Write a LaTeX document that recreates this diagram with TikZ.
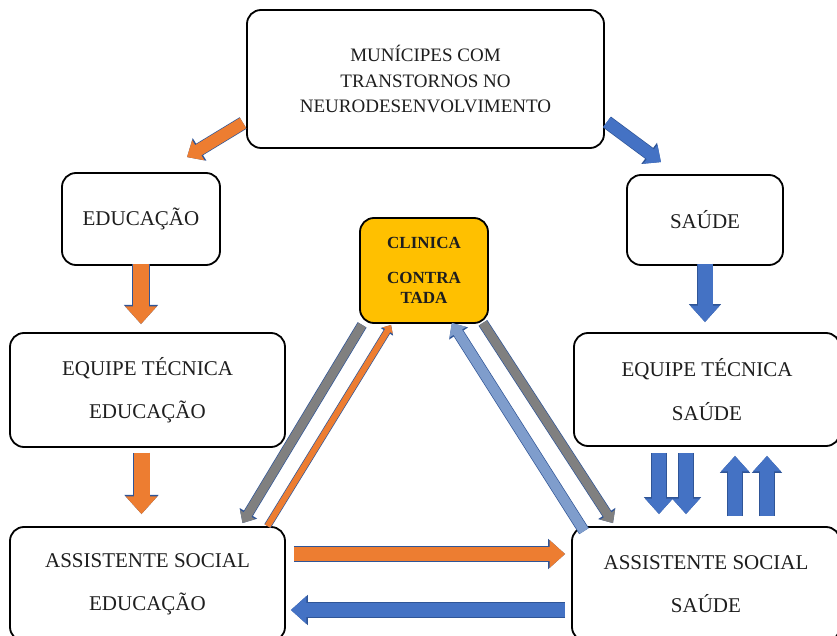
\documentclass[tikz,border=0pt]{standalone}
\usepackage{fontspec}
\setmainfont{Liberation Serif}
\usetikzlibrary{calc,arrows.meta}
\definecolor{laranja}{RGB}{237,125,49}
\definecolor{azul}{RGB}{68,114,196}
\definecolor{cinza}{RGB}{128,128,128}
\definecolor{azulclaro}{RGB}{127,157,204}
\definecolor{amarelo}{RGB}{255,192,0}
\definecolor{contorno}{RGB}{47,85,151}
\definecolor{texto}{RGB}{30,30,30}
\begin{document}
\begin{tikzpicture}[x=0.5pt,y=-0.5pt,
  box/.style={rectangle, rounded corners=7pt, draw=black, line width=0.9pt, fill=white, text=texto, align=center, font=\fontsize{10.5}{12.6}\selectfont},
  clinic/.style={box, fill=amarelo, font=\fontsize{8.5}{10.2}\selectfont\bfseries},
  fat/.style 2 args={draw=#1, line width=#2, -{Triangle[length=0pt 1.1, width=0pt 1.9]}, preaction={draw=contorno, line width=#2+0.7pt}}]
\useasboundingbox (0,0) rectangle (837,636);
\node[box, minimum width=178.5pt, minimum height=69pt, font=\fontsize{9.5}{12.8}\selectfont] (mun) at (425.5,79) {MUNÍCIPES COM\\TRANSTORNOS NO\\NEURODESENVOLVIMENTO};
\node[box, minimum width=79pt, minimum height=46pt] (edu) at (141,219) {EDUCAÇÃO};
\node[box, minimum width=78pt, minimum height=45pt] (sau) at (705,220) {SAÚDE};
\node[clinic, minimum width=64pt, minimum height=52.5pt] (clin) at (424,270.5) {CLINICA\\[7pt]CONTRA\\TADA};
\node[box, minimum width=137.5pt, minimum height=57pt] (eqedu) at (147.5,390) {EQUIPE TÉCNICA\\[9pt]EDUCAÇÃO};
\node[box, minimum width=133pt, minimum height=56.5pt] (eqsau) at (707,389.5) {EQUIPE TÉCNICA\\[9pt]SAÚDE};
\node[box, minimum width=137.5pt, minimum height=57pt] (asedu) at (147.5,584) {ASSISTENTE SOCIAL\\[9pt]EDUCAÇÃO};
\node[box, minimum width=134pt, minimum height=57pt] (assau) at (706,584) {ASSISTENTE SOCIAL\\[9pt]SAÚDE};
\draw[fat={laranja}{6pt}] ($(mun.west)+(-3,44)$) -- ($(edu.north)+(46,-15)$);
\draw[fat={azul}{6pt}] ($(mun.east)+(2,43)$) -- ($(sau.north)+(-44,-12)$);
\draw[fat={laranja}{8pt}] ($(edu.south)+(0,-2)$) -- ($(edu.south |- eqedu.north)+(0,-8)$);
\draw[fat={laranja}{8pt}] ($(eqedu.south)+(-6,5)$) -- ($(asedu.north)+(-6,-12)$);
\draw[fat={azul}{7.5pt}] ($(sau.south)+(0,-2)$) -- ($(sau.south |- eqsau.north)+(0,-10)$);
\draw[fat={azul}{7pt}] ($(eqsau.south)+(-48,6)$) -- ($(assau.north)+(-47,-12)$);
\draw[fat={azul}{7pt}] ($(eqsau.south)+(-21,6)$) -- ($(assau.north)+(-20,-12)$);
\draw[fat={azul}{7pt}] ($(assau.north)+(29,-10)$) -- ($(eqsau.south)+(28,9)$);
\draw[fat={azul}{7pt}] ($(assau.north)+(61,-10)$) -- ($(eqsau.south)+(60,9)$);
\draw[fat={laranja}{7pt}] ($(asedu.east)+(8,-30)$) -- ($(assau.west)+(-6,-30)$);
\draw[fat={azul}{7pt}] ($(assau.west)+(-6,26)$) -- ($(asedu.east)+(5,26)$);
\draw[fat={cinza}{4.5pt}] ($(clin.south west)+(3,1)$) -- ($(asedu.north)+(95,-3)$);
\draw[fat={laranja}{3pt}] ($(asedu.north)+(120,0)$) -- ($(clin.south west)+(32,1)$);
\draw[fat={azulclaro}{5pt}] ($(assau.north)+(-122,5)$) -- ($(clin.south east)+(-37,-1)$);
\draw[fat={cinza}{4.5pt}] ($(clin.south east)+(-6,-1)$) -- ($(assau.north)+(-93,-3)$);
\end{tikzpicture}
\end{document}
